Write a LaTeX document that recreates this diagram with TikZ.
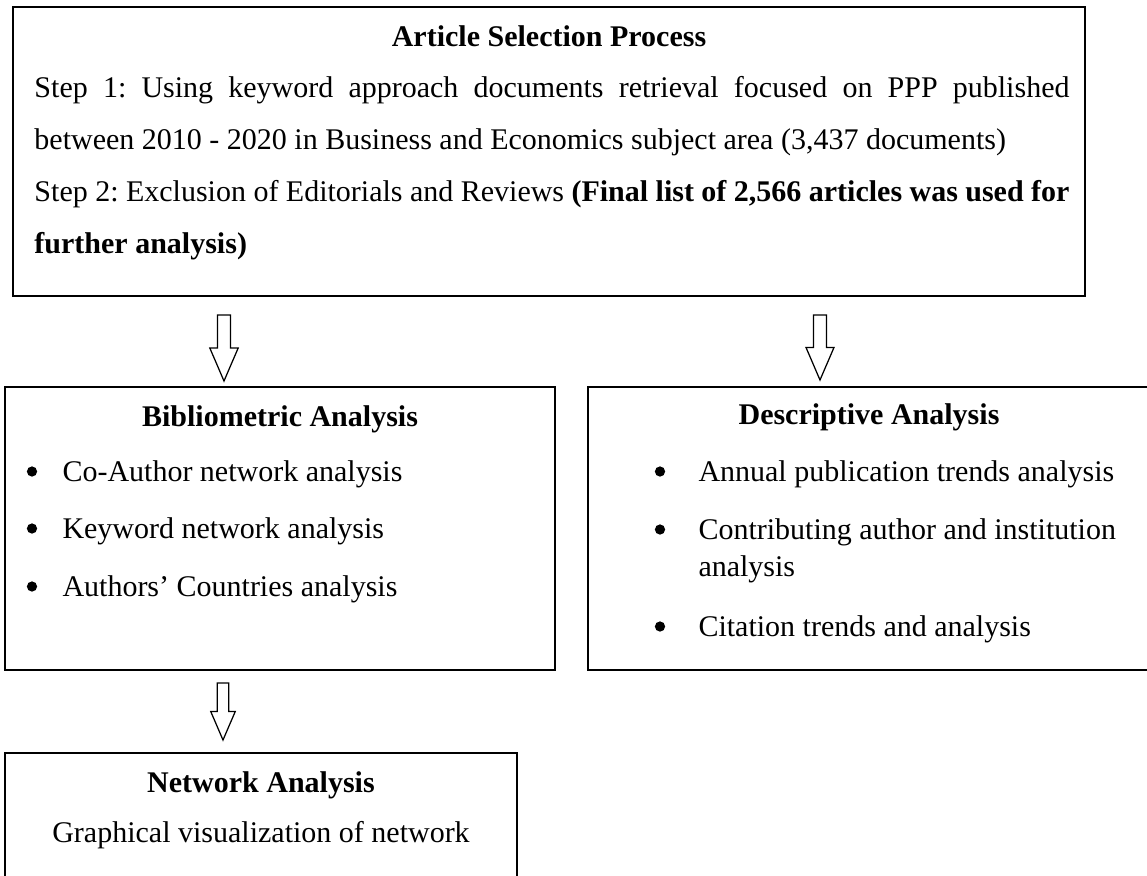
\documentclass[tikz,border=0pt]{standalone}
\usepackage{fontspec}
\setmainfont{Liberation Serif}
\usetikzlibrary{calc,positioning,fit}

\tikzset{
  boxline/.style={draw=black, line width=0.6pt, inner sep=0pt},
  blockline/.style={draw=black, line width=0.5pt, fill=white},
  boxtitle/.style={font=\fontsize{12pt}{14pt}\selectfont\bfseries, inner sep=0pt, anchor=base},
  lineitem/.style={font=\fontsize{12pt}{14.8pt}\selectfont, inner sep=0pt, anchor=base west, align=left},
  bulletmark/.style={circle, fill=black, inner sep=0pt, minimum size=4.1pt},
  paratext/.style={font=\fontsize{12pt}{20.9pt}\selectfont\frenchspacing, inner sep=0pt, anchor=base west,
    text width=414pt, align=justify},
}

% hollow block arrow from #1 (start) to #2 (tip)
\newcommand{\hollowarrow}[2]{%
  \coordinate (#1-mid) at ($(#1)!0.5!(#2)$);
  \draw[blockline] ($(#1)!0.1!90:(#2)$) -- ($(#1-mid)!0.2!90:(#2)$) -- ($(#1-mid)!0.43!90:(#2)$)
    -- (#2) -- ($(#1-mid)!0.43!-90:(#2)$) -- ($(#1-mid)!0.2!-90:(#2)$) -- ($(#1)!0.1!-90:(#2)$) -- cycle;}

\begin{document}
\begin{tikzpicture}[x=0.4pt, y=-0.4pt]
\useasboundingbox (0,0) rectangle (1147,875);

% boxes
\node[boxline, fit={(13,7) (1085,296)}] (select) {};
\node[boxline, fit={(5,387) (555,670)}] (biblio) {};
\node[boxline, fit={(588,387) (1152,670)}] (descr) {};
\node[boxline, fit={(5,753) (517,900)}] (network) {};

% article selection
\node[boxtitle] (selhead) at (549,46) {Article Selection Process};
\node[paratext] (selbody) at (34,97) {Step 1: Using keyword approach documents retrieval focused on PPP published\linebreak
  between 2010 - 2020 in Business and Economics subject area (3,437 documents)\par
  Step 2: Exclusion of Editorials and Reviews \textbf{(Final list of 2,566 articles was used for\linebreak further analysis)}};

% bibliometric
\node[boxtitle] (bibhead) at (280,426) {Bibliometric Analysis};
\node[bulletmark] (bibdot1) at (32,471.5) {};
\node[lineitem] (bibitem1) at (62,481) {Co-Author network analysis};
\node[bulletmark] (bibdot2) at (32,528.5) {};
\node[lineitem] (bibitem2) at (62,538) {Keyword network analysis};
\node[bulletmark] (bibdot3) at (32,586.5) {};
\node[lineitem] (bibitem3) at (62,596) {Authors' Countries analysis};

% descriptive
\node[boxtitle] (deshead) at (869,424) {Descriptive Analysis};
\node[bulletmark] (desdot1) at (660,471.5) {};
\node[lineitem] (desitem1) at (698,481) {Annual publication trends analysis};
\node[bulletmark] (desdot2) at (660,529.5) {};
\node[lineitem] (desitem2) at (698,576) {Contributing author and institution\\analysis};
\node[bulletmark] (desdot3) at (660,626.5) {};
\node[lineitem] (desitem3) at (698,636) {Citation trends and analysis};

% network
\node[boxtitle] (nethead) at (261,792) {Network Analysis};
\node[lineitem, anchor=base] (netbody) at (261,842) {Graphical visualization of network};

% arrows
\coordinate (a1s) at (224,315);
\coordinate (a1t) at (224,381);
\coordinate (a2s) at (820,315);
\coordinate (a2t) at (820,380);
\coordinate (a3s) at (223,683);
\coordinate (a3t) at (223,740);
\hollowarrow{a1s}{a1t}
\hollowarrow{a2s}{a2t}
\hollowarrow{a3s}{a3t}
\end{tikzpicture}
\end{document}
